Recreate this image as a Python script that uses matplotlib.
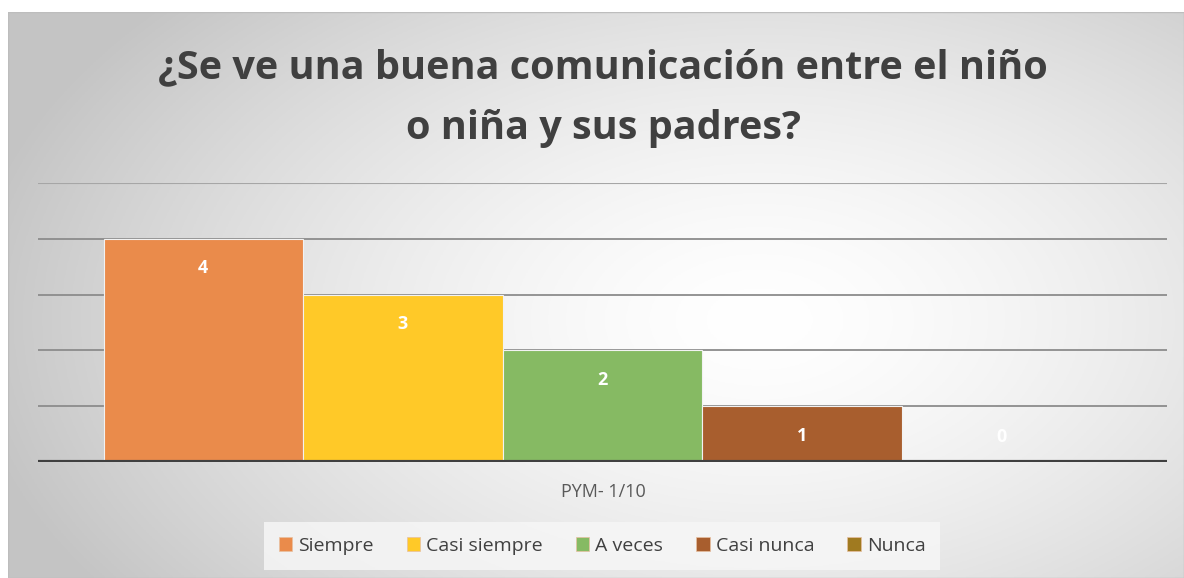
import numpy as np
import matplotlib
matplotlib.use("Agg")
import matplotlib.pyplot as plt
from matplotlib.patches import Rectangle

categories = ["Siempre", "Casi siempre", "A veces", "Casi nunca", "Nunca"]
values = [4, 3, 2, 1, 0]
colors = ["#EA8B4B", "#FFC928", "#86BA63", "#A85E2E", "#A07A20"]
group_label = "PYM- 1/10"
title = "¿Se ve una buena comunicación entre el niño\no niña y sus padres?"

W, H = 1184, 578
fig = plt.figure(figsize=(W / 100, H / 100), dpi=100)
fig.patch.set_facecolor("white")

# background with radial gradient
x0, y0, x1, y1 = 8, 12, 1184, 578
bg = fig.add_axes([x0 / W, 1 - y1 / H, (x1 - x0) / W, (y1 - y0) / H])
bg.set_axis_off()
xx, yy = np.meshgrid(np.linspace(x0, x1, 400), np.linspace(y0, y1, 200))
cx, cy = 760, 320
d = np.sqrt(((xx - cx) / 800) ** 2 + ((yy - cy) / 480) ** 2)
d = np.clip(d, 0, 1)
g = 1.0 - 0.23 * d ** 1.5
img = np.dstack([g, g, g])
bg.imshow(img, aspect="auto", extent=[0, 1, 0, 1], origin="upper")
bg.add_patch(Rectangle((0, 0), 1, 1, transform=bg.transAxes, fill=False,
                       edgecolor="#bdbdbd", lw=1))
bg.set_xlim(0, 1)
bg.set_ylim(0, 1)

# main axes
ax_l, ax_r, ax_t, ax_b = 38, 1167, 183, 462
ax = fig.add_axes([ax_l / W, 1 - ax_b / H, (ax_r - ax_l) / W, (ax_b - ax_t) / H])
ax.patch.set_alpha(0)
n = len(categories)
group_w = 998 / 1129
bw = group_w / n
xs = -group_w / 2 + bw / 2 + np.arange(n) * bw
ax.set_xlim(-0.5, 0.5)
ax.set_ylim(0, 5)
for y in range(1, 6):
    ax.axhline(y, color="#a6a6a6" if y == 5 else "#8c8c8c", lw=1.3 if y < 5 else 0.8, zorder=0)
bars = ax.bar(xs, values, width=bw, color=colors, edgecolor="#f2f2f2", linewidth=0.8, zorder=2)
ax.axhline(0, color="#404040", lw=3, zorder=3)
for xv, v in zip(xs, values):
    ax.text(xv, v - 0.53 if v > 0 else 0.45, str(v), ha="center", va="center",
            color="white", fontsize=13, fontweight="bold", family="Open Sans", zorder=4)
for s in ax.spines.values():
    s.set_visible(False)
ax.set_xticks([])
ax.set_yticks([])

fig.text(603 / W, 1 - 98 / H, title, ha="center", va="center", fontsize=28.5,
         fontweight="bold", color="#404040", family="Open Sans", linespacing=1.72)
fig.text(603 / W, 1 - 492 / H, group_label, ha="center", va="center", fontsize=13,
         color="#595959", family="Open Sans")

# legend
handles = [Rectangle((0, 0), 1, 1, facecolor=c, edgecolor="#e8c0a0", lw=0.5) for c in colors]
leg = fig.legend(handles, categories, loc="center", bbox_to_anchor=(602 / W, 1 - 546 / H),
                 ncol=n, frameon=True, handlelength=0.7, handleheight=0.7,
                 handletextpad=0.3, columnspacing=1.7, borderpad=0.45,
                 prop={"family": "Open Sans", "size": 14})
leg.get_frame().set_facecolor("#f6f6f6")
leg.get_frame().set_edgecolor("none")
leg.get_frame().set_alpha(0.85)
leg.get_frame().set_boxstyle("square")
for t in leg.get_texts():
    t.set_color("#404040")

fig.savefig("out.png", dpi=100)
